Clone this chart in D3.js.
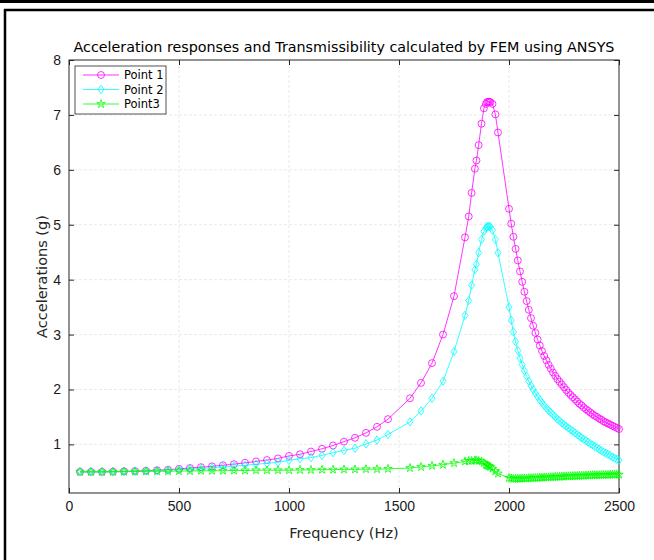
<!DOCTYPE html>
<html>
<head>
<meta charset="utf-8">
<script src="https://cdn.jsdelivr.net/npm/d3@7"></script>
<style>
  body { margin: 0; background: #fff; }
  svg { display: block; font-family: "DejaVu Sans", sans-serif; }
</style>
</head>
<body>
<div id="container"></div>
<script>
/* CONSTANTS AND GLOBALS */
const width = 654,
  height = 560,
  margin = { top: 60, right: 35, bottom: 67, left: 69 };

/* DATA */
const freqs = [
  50, 100, 150, 200, 250, 300, 350, 400, 450, 500, 550, 600, 650, 700, 750,
  800, 850, 900, 950, 1000, 1050, 1100, 1150, 1200, 1250, 1300, 1350, 1400, 1450,
  1550, 1600, 1650, 1700, 1750,
  1800, 1817, 1830, 1845, 1852, 1862, 1875, 1886, 1895, 1900, 1905, 1910, 1915, 1925, 1938, 1950,
  2000, 2010, 2020, 2030, 2040, 2050, 2060, 2070, 2080, 2090, 2100, 2110, 2120, 2130, 2140,
  2150, 2160, 2170, 2180, 2190, 2200, 2210, 2220, 2230, 2240, 2250, 2260, 2270, 2280, 2290,
  2300, 2310, 2320, 2330, 2340, 2350, 2360, 2370, 2380, 2390, 2400, 2410, 2420, 2430, 2440,
  2450, 2460, 2470, 2480, 2490, 2500
];

const point1 = [
  0.50, 0.50, 0.50, 0.505, 0.51, 0.515, 0.52, 0.53, 0.54, 0.555, 0.57, 0.585, 0.60, 0.62, 0.64,
  0.665, 0.69, 0.715, 0.745, 0.79, 0.82, 0.87, 0.92, 0.98, 1.05, 1.12, 1.21, 1.32, 1.46,
  1.84, 2.12, 2.48, 3.00, 3.70,
  4.77, 5.15, 5.58, 6.02, 6.17, 6.45, 6.84, 7.12, 7.20, 7.23, 7.24, 7.24, 7.23, 7.20, 7.01, 6.68,
  5.29, 5.02, 4.78, 4.56, 4.35, 4.15, 3.96, 3.78, 3.61, 3.45, 3.30, 3.16, 3.03, 2.91, 2.80,
  2.70, 2.61, 2.53, 2.45, 2.38, 2.31, 2.25, 2.19, 2.14, 2.09, 2.04, 1.99, 1.94, 1.90, 1.86,
  1.82, 1.78, 1.74, 1.71, 1.67, 1.64, 1.61, 1.58, 1.55, 1.52, 1.50, 1.47, 1.45, 1.42, 1.40,
  1.38, 1.36, 1.34, 1.32, 1.30, 1.28
];

const point2 = [
  0.50, 0.50, 0.50, 0.50, 0.505, 0.51, 0.515, 0.52, 0.53, 0.54, 0.55, 0.56, 0.575, 0.59, 0.605,
  0.62, 0.64, 0.655, 0.675, 0.71, 0.74, 0.76, 0.80, 0.85, 0.89, 0.93, 1.01, 1.08, 1.18,
  1.41, 1.61, 1.84, 2.15, 2.69,
  3.35, 3.62, 3.90, 4.18, 4.28, 4.49, 4.73, 4.88, 4.94, 4.96, 4.97, 4.97, 4.96, 4.90, 4.73, 4.49,
  3.50, 3.26, 3.05, 2.87, 2.71, 2.57, 2.45, 2.34, 2.24, 2.15, 2.07, 2.00, 1.93, 1.87, 1.81,
  1.76, 1.71, 1.66, 1.62, 1.58, 1.54, 1.50, 1.46, 1.43, 1.39, 1.36, 1.33, 1.30, 1.27, 1.24,
  1.21, 1.18, 1.15, 1.12, 1.09, 1.07, 1.04, 1.01, 0.99, 0.96, 0.94, 0.91, 0.89, 0.86, 0.84,
  0.82, 0.80, 0.77, 0.75, 0.73, 0.71
];

const point3 = [
  0.50, 0.50, 0.50, 0.50, 0.505, 0.505, 0.51, 0.51, 0.51, 0.515, 0.515, 0.52, 0.52, 0.52, 0.525,
  0.525, 0.53, 0.53, 0.53, 0.53, 0.535, 0.535, 0.54, 0.54, 0.545, 0.545, 0.55, 0.55, 0.555,
  0.57, 0.59, 0.61, 0.63, 0.66,
  0.69, 0.70, 0.70, 0.71, 0.71, 0.70, 0.69, 0.66, 0.63, 0.62, 0.61, 0.60, 0.59, 0.56, 0.51, 0.47,
  0.39, 0.38, 0.375, 0.375, 0.375, 0.375, 0.38, 0.38, 0.38, 0.385, 0.385, 0.39, 0.39, 0.39, 0.395,
  0.395, 0.40, 0.40, 0.40, 0.405, 0.405, 0.41, 0.41, 0.41, 0.415, 0.415, 0.42, 0.42, 0.42, 0.425,
  0.425, 0.425, 0.43, 0.43, 0.43, 0.435, 0.435, 0.435, 0.44, 0.44, 0.44, 0.44, 0.445, 0.445, 0.445,
  0.445, 0.45, 0.45, 0.45, 0.45, 0.45
];

const seriesNames = ["Point 1", "Point 2", "Point3"];
const seriesColors = ["#ff00ff", "#00ffff", "#00ff00"];
const seriesMarkers = ["circle", "diamond", "star"];
const xTicks = [0, 500, 1000, 1500, 2000, 2500];
const yTicks = [1, 2, 3, 4, 5, 6, 7, 8];

const series = [point1, point2, point3].map((vals, i) => ({
  name: seriesNames[i],
  color: seriesColors[i],
  marker: seriesMarkers[i],
  values: vals.map((v, j) => ({ f: freqs[j], v: v }))
}));

/* SVG */
const svg = d3.select("#container")
  .append("svg")
  .attr("width", width)
  .attr("height", height);

// outer frame of the screenshot
svg.append("rect").attr("x", 0).attr("y", 0).attr("width", width).attr("height", 3).attr("fill", "#000");
svg.append("line").attr("x1", 4).attr("x2", width).attr("y1", 10).attr("y2", 10)
  .attr("stroke", "#000").attr("stroke-width", 2.5);
svg.append("line").attr("x1", 5).attr("x2", 5).attr("y1", 9).attr("y2", height)
  .attr("stroke", "#000").attr("stroke-width", 2.5);

/* SCALES */
const xScale = d3.scaleLinear()
  .domain([0, 2500])
  .range([margin.left, width - margin.right]);
const yScale = d3.scaleLinear()
  .domain([0.115, 8])
  .range([height - margin.bottom, margin.top]);

const x0 = xScale.range()[0], x1 = xScale.range()[1];
const y0 = yScale.range()[0], y1 = yScale.range()[1];
const axisColor = "#262626";

// grid
svg.append("g")
  .selectAll("line")
  .data(xTicks.slice(1, -1))
  .join("line")
  .attr("x1", d => xScale(d)).attr("x2", d => xScale(d))
  .attr("y1", y0).attr("y2", y1)
  .attr("stroke", "#e3e3e3").attr("stroke-dasharray", "3,2").attr("stroke-width", 0.8);
svg.append("g")
  .selectAll("line")
  .data(yTicks.slice(0, -1))
  .join("line")
  .attr("x1", x0).attr("x2", x1)
  .attr("y1", d => yScale(d)).attr("y2", d => yScale(d))
  .attr("stroke", "#e3e3e3").attr("stroke-dasharray", "3,2").attr("stroke-width", 0.8);

/* AXES */
function styleAxis(g) {
  g.select(".domain").remove();
  g.selectAll(".tick line").attr("stroke", axisColor);
  g.selectAll(".tick text").attr("fill", "#1a1a1a").style("font-size", "14px");
}
svg.append("g")
  .attr("transform", `translate(0,${y0})`)
  .call(d3.axisBottom(xScale).tickValues(xTicks).tickSize(-5).tickPadding(8).tickFormat(d3.format("d")))
  .call(styleAxis);
svg.append("g")
  .attr("transform", `translate(0,${y1})`)
  .call(d3.axisTop(xScale).tickValues(xTicks).tickSize(-5).tickFormat(""))
  .call(styleAxis);
svg.append("g")
  .attr("transform", `translate(${x0},0)`)
  .call(d3.axisLeft(yScale).tickValues(yTicks).tickSize(-5).tickPadding(8).tickFormat(d3.format("d")))
  .call(styleAxis);
svg.append("g")
  .attr("transform", `translate(${x1},0)`)
  .call(d3.axisRight(yScale).tickValues(yTicks).tickSize(-5).tickFormat(""))
  .call(styleAxis);

svg.append("rect")
  .attr("x", x0).attr("y", y1)
  .attr("width", x1 - x0).attr("height", y0 - y1)
  .attr("fill", "none").attr("stroke", axisColor).attr("stroke-width", 1);

/* MARKERS */
function markerPath(type) {
  if (type === "circle") return d3.symbol(d3.symbolCircle, 38)();
  if (type === "star") return d3.symbol(d3.symbolStar, 22)();
  // tall diamond like MATLAB's 'd'
  return "M0,-4.2L3,0L0,4.2L-3,0Z";
}

const line = d3.line()
  .x(d => xScale(d.f))
  .y(d => yScale(d.v));

const plot = svg.append("g");
series.forEach(s => {
  plot.append("path")
    .datum(s.values)
    .attr("fill", "none")
    .attr("stroke", s.color)
    .attr("stroke-width", 0.8)
    .attr("d", line);
  plot.append("g")
    .selectAll("path")
    .data(s.values)
    .join("path")
    .attr("transform", d => `translate(${xScale(d.f)},${yScale(d.v)})`)
    .attr("d", markerPath(s.marker))
    .attr("fill", "none")
    .attr("stroke", s.color)
    .attr("stroke-width", 0.8);
});

/* LEGEND */
const legend = svg.append("g").attr("transform", "translate(75,66)");
legend.append("rect")
  .attr("width", 91).attr("height", 48)
  .attr("fill", "#fff").attr("stroke", axisColor).attr("stroke-width", 0.8);
series.forEach((s, i) => {
  const ly = 9 + i * 14.5;
  legend.append("line")
    .attr("x1", 8).attr("x2", 44).attr("y1", ly).attr("y2", ly)
    .attr("stroke", s.color).attr("stroke-width", 0.8);
  legend.append("path")
    .attr("transform", `translate(26,${ly})`)
    .attr("d", markerPath(s.marker))
    .attr("fill", "none").attr("stroke", s.color).attr("stroke-width", 0.8);
  legend.append("text")
    .attr("x", 49).attr("y", ly).attr("dy", "0.35em")
    .style("font-size", "11.5px").attr("fill", "#000")
    .text(s.name);
});

/* LABELS */
svg.append("text")
  .attr("x", (x0 + x1) / 2).attr("y", 52)
  .attr("text-anchor", "middle")
  .style("font-size", "14.3px").attr("fill", "#000")
  .text("Acceleration responses and Transmissibility calculated by FEM using ANSYS");
svg.append("text")
  .attr("x", (x0 + x1) / 2).attr("y", 538)
  .attr("text-anchor", "middle")
  .style("font-size", "14.5px").attr("fill", "#262626")
  .text("Frequency (Hz)");
svg.append("text")
  .attr("transform", `translate(47,${(y0 + y1) / 2}) rotate(-90)`)
  .attr("text-anchor", "middle")
  .style("font-size", "14.5px").attr("fill", "#262626")
  .text("Accelerations (g)");
</script>
</body>
</html>
